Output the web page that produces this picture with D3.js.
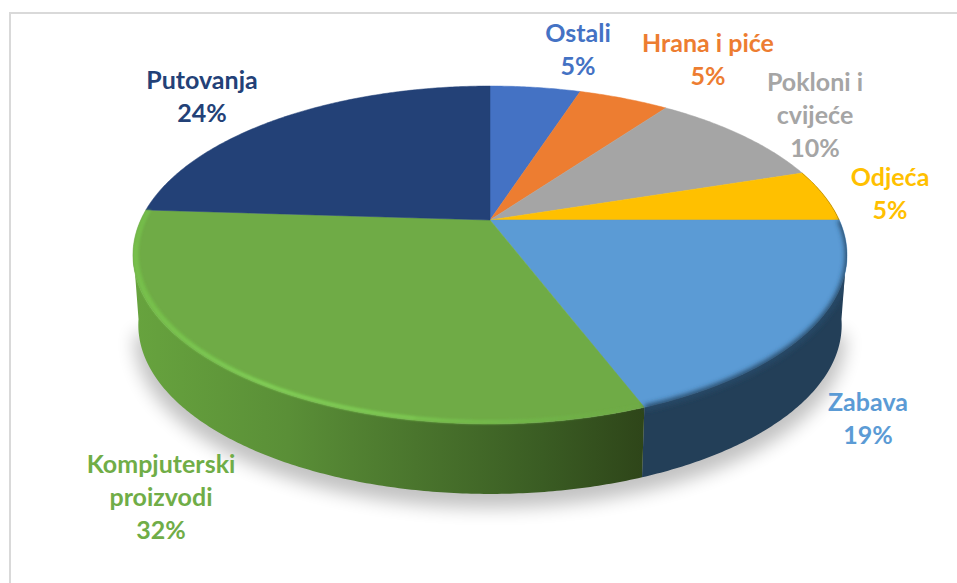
<!DOCTYPE html>
<html>
<head>
<meta charset="utf-8">
<script src="https://cdnjs.cloudflare.com/ajax/libs/d3/7.8.5/d3.min.js"></script>
<style>
  html, body { margin: 0; padding: 0; background: #fff; }
  svg { display: block; }
</style>
</head>
<body>
<svg id="pie" width="957" height="583"></svg>
<script>
// Spending shares as a tilted 3D pie, first slice starts at 12 o'clock.
const categories = ["Ostali", "Hrana i piće", "Pokloni i cvijeće", "Odjeća", "Zabava", "Kompjuterski proizvodi", "Putovanja"];
const shares = [5, 5, 10, 5, 19.2, 31.8, 24];
const colors = ["#4472c4", "#ed7d31", "#a5a5a5", "#ffc000", "#5b9bd5", "#6fab46", "#234177"];

// wrapped label lines and where they sit (centre x, first baseline)
const labelLines = [["Ostali"], ["Hrana i piće"], ["Pokloni i", "cvijeće"], ["Odjeća"], ["Zabava"], ["Kompjuterski", "proizvodi"], ["Putovanja"]];
const labelPos = [[578, 42], [708, 52], [815, 91], [890, 186], [868, 411], [161, 473], [202, 89]];

const svg = d3.select("#pie");
const defs = svg.append("defs");

// perspective of the disc: back edge y=86, centre y=220, front edge y=424
const cx = 490, cy = 220, tilt = -0.207, sx = 349.3, sy = 161.7, depth = 70;

function project(angle, r = 1, shrink = 1, drop = 0) {
  const u = r * Math.sin(angle), v = -r * Math.cos(angle);
  const w = 1 + tilt * v;
  return [cx + shrink * sx * u / w, cy + sy * v / w + drop];
}

function arcPoints(a0, a1, r = 1, shrink = 1, drop = 0) {
  const n = Math.max(2, Math.ceil((a1 - a0) / 0.01));
  return d3.range(n + 1).map(i => project(a0 + (a1 - a0) * i / n, r, shrink, drop));
}

const line = d3.line();
const slices = d3.pie().value(d => d).sort(null)(shares);
const toRad = d3.scaleLinear().domain([0, 180]).range([0, Math.PI]);
const sideFrom = toRad(100), sideTo = toRad(260);

function blur(id, dev) {
  defs.append("filter").attr("id", id)
    .attr("filterUnits", "userSpaceOnUse")
    .attr("x", 0).attr("y", 0).attr("width", 957).attr("height", 583)
    .append("feGaussianBlur").attr("stdDeviation", dev);
}
blur("soft-shadow", 9);
blur("soft-rim", 2.4);
blur("soft-light", 1.2);

function gradient(id, x1, x2, stops) {
  const g = defs.append("linearGradient").attr("id", id)
    .attr("gradientUnits", "userSpaceOnUse")
    .attr("x1", x1).attr("x2", x2).attr("y1", 0).attr("y2", 0);
  stops.forEach(([o, c, a]) => g.append("stop")
    .attr("offset", o).attr("stop-color", c).attr("stop-opacity", a === undefined ? 1 : a));
}
gradient("green-side", 135, 645, [[0, "#67a33e"], [0.3, "#5a8f37"], [0.55, "#4a752d"], [0.8, "#3a5c23"], [1, "#2e4519"]]);
gradient("green-bevel", 135, 645, [[0, "#74bc4a", 1], [0.55, "#78c24e", 1], [0.85, "#70b548", 0.6], [1, "#70ad47", 0]]);
gradient("green-glint", 135, 645, [[0, "#7cc652", 0.5], [0.25, "#86d25c", 1], [0.6, "#7cc652", 0.8], [0.85, "#70b548", 0]]);

// everything the rim blur may touch, so it never bleeds onto the white page
const whole = arcPoints(0, 2 * Math.PI);
defs.append("clipPath").attr("id", "pie-body")
  .selectAll("path")
  .data([
    whole,
    arcPoints(sideFrom, sideTo).concat(arcPoints(sideFrom, sideTo, 1, 0.985, depth).reverse())
  ])
  .join("path")
  .attr("d", d => line(d) + "Z");

// frame
svg.append("path")
  .attr("d", "M10,583V13H957")
  .attr("fill", "none")
  .attr("stroke", "#d9d9d9")
  .attr("stroke-width", 2);

// ground shadow
svg.append("path")
  .attr("d", line(arcPoints(sideFrom, sideTo, 1, 0.995, depth)) + "Z")
  .attr("transform", "translate(0,14)")
  .attr("fill", "#000")
  .attr("opacity", 0.24)
  .attr("filter", "url(#soft-shadow)");

// side wall: only the slices that face the viewer
const sideFill = { 4: "#233f58", 5: "url(#green-side)" };
slices.forEach((s, i) => {
  const a0 = Math.max(s.startAngle, sideFrom), a1 = Math.min(s.endAngle, sideTo);
  if (a1 <= a0 || !sideFill[i]) return;
  const pts = arcPoints(a0, a1).concat(arcPoints(a0, a1, 1, 0.985, depth).reverse());
  svg.append("path")
    .attr("d", line(pts) + "Z")
    .attr("fill", sideFill[i]);
});

// top face
slices.forEach((s, i) => {
  const pts = [[cx, cy]].concat(arcPoints(s.startAngle, s.endAngle));
  svg.append("path")
    .attr("d", line(pts) + "Z")
    .attr("fill", colors[i])
    .attr("stroke", colors[i])
    .attr("stroke-width", 0.5);
});

// bevel along the rim: a light band on the green slice, dark on the right
const rimLayer = svg.append("g").attr("clip-path", "url(#pie-body)");
const greenSlice = slices[5];
rimLayer.append("path")
  .attr("d", line(arcPoints(greenSlice.startAngle, greenSlice.endAngle)
    .concat(arcPoints(greenSlice.startAngle, greenSlice.endAngle, 0.984).reverse())) + "Z")
  .attr("fill", "url(#green-bevel)")
  .attr("filter", "url(#soft-light)");
rimLayer.append("path")
  .attr("d", line(arcPoints(toRad(190), toRad(262), 0.994)))
  .attr("fill", "none")
  .attr("stroke", "url(#green-glint)")
  .attr("stroke-width", 2)
  .attr("filter", "url(#soft-light)");

const zabava = slices[4];
rimLayer.append("path")
  .attr("d", line(arcPoints(zabava.startAngle, zabava.endAngle, 1.003)))
  .attr("fill", "none")
  .attr("stroke", "#264a68")
  .attr("stroke-width", 6)
  .attr("filter", "url(#soft-rim)");

const odjeca = slices[3];
rimLayer.append("path")
  .attr("d", line(arcPoints(odjeca.startAngle, odjeca.endAngle)))
  .attr("fill", "none")
  .attr("stroke", "#7a5c10")
  .attr("stroke-width", 1)
  .attr("opacity", 0.8);

// labels
const lineHeight = 33;
categories.forEach((name, i) => {
  const [x, y] = labelPos[i];
  const t = svg.append("text")
    .attr("text-anchor", "middle")
    .attr("font-family", "Lato, 'Open Sans', sans-serif")
    .attr("font-weight", 700)
    .attr("font-size", 25)
    .attr("fill", i === 5 ? "#70ad47" : colors[i]);
  labelLines[i].concat(`${Math.round(shares[i])}%`).forEach((txt, k) => {
    t.append("tspan").attr("x", x).attr("y", y + k * lineHeight).text(txt);
  });
});
</script>
</body>
</html>
